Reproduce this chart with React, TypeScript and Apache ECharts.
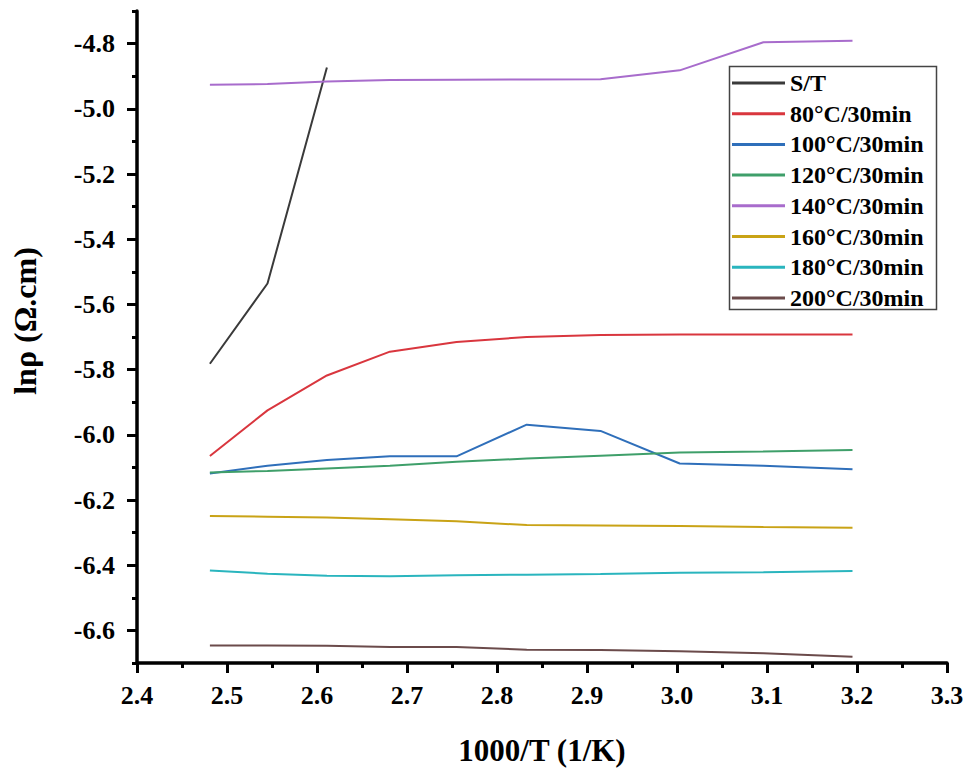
import React, { useEffect, useRef } from "react";
import * as echarts from "echarts";

const xValues = [2.481, 2.545, 2.611, 2.681, 2.755, 2.833, 2.915, 3.003, 3.096, 3.195];
const seriesNames = [
  "S/T",
  "80°C/30min",
  "100°C/30min",
  "120°C/30min",
  "140°C/30min",
  "160°C/30min",
  "180°C/30min",
  "200°C/30min",
];
const stValues = [-5.782, -5.536, -4.873];
const t80Values = [-6.065, -5.925, -5.818, -5.745, -5.715, -5.7, -5.694, -5.692, -5.692, -5.692];
const t100Values = [-6.119, -6.095, -6.077, -6.066, -6.066, -5.969, -5.988, -6.088, -6.095, -6.106];
const t120Values = [-6.116, -6.111, -6.103, -6.095, -6.083, -6.073, -6.064, -6.054, -6.051, -6.047];
const t140Values = [-4.926, -4.924, -4.916, -4.912, -4.911, -4.91, -4.909, -4.882, -4.796, -4.791];
const t160Values = [-6.249, -6.251, -6.254, -6.259, -6.265, -6.277, -6.278, -6.28, -6.283, -6.285];
const t180Values = [-6.416, -6.426, -6.432, -6.434, -6.431, -6.429, -6.427, -6.423, -6.422, -6.418];
const t200Values = [-6.646, -6.646, -6.647, -6.651, -6.651, -6.659, -6.66, -6.664, -6.67, -6.681];
const seriesValues = [stValues, t80Values, t100Values, t120Values, t140Values, t160Values, t180Values, t200Values];
const colors = ["#3a3a3a", "#d9363e", "#2f6fba", "#3f9f6a", "#a86ccc", "#c9a316", "#2ab5be", "#6b4b4b"];

const yLabelValues = [-6.6, -6.4, -6.2, -6.0, -5.8, -5.6, -5.4, -5.2, -5.0, -4.8];
const yMinorValues = [-6.7, -6.5, -6.3, -6.1, -5.9, -5.7, -5.5, -5.3, -5.1, -4.9, -4.7];

const FONT = "Liberation Serif";

export default function App() {
  const ref = useRef<HTMLDivElement>(null);
  useEffect(() => {
    if (!ref.current) return;
    const chart = echarts.init(ref.current, null, { renderer: "svg" });
    const series = seriesNames.map((name, i) => ({
      name,
      type: "line",
      data: seriesValues[i].map((v, j) => [xValues[j], v]),
      symbol: "none",
      showSymbol: false,
      lineStyle: { color: colors[i], width: 2 },
      itemStyle: { color: colors[i] },
      xAxisIndex: 0,
      yAxisIndex: 0,
    }));
    const tickLabel = {
      fontFamily: FONT,
      fontWeight: "bold",
      fontSize: 26,
      color: "#000",
      formatter: (v: number) => v.toFixed(1),
    };
    chart.setOption({
      animation: false,
      textStyle: { fontFamily: FONT, fontWeight: "bold" },
      grid: {
        left: 137,
        right: 17,
        top: 11,
        bottom: 106,
        containLabel: false,
        outerBoundsMode: "none",
      },
      xAxis: [
        {
          type: "value",
          min: 2.4,
          max: 3.3,
          interval: 0.1,
          name: "1000/T (1/K)",
          nameLocation: "middle",
          nameGap: 72,
          nameTextStyle: { fontFamily: FONT, fontWeight: "bold", fontSize: 31, color: "#000" },
          axisLine: { show: true, onZero: false, lineStyle: { color: "#000", width: 3.5 } },
          axisTick: { show: true, inside: false, length: 10, lineStyle: { color: "#000", width: 3 } },
          minorTick: { show: true, splitNumber: 2, length: 5, lineStyle: { color: "#000", width: 3 } },
          axisLabel: { ...tickLabel, margin: 19 },
          splitLine: { show: false },
          minorSplitLine: { show: false },
        },
      ],
      yAxis: [
        {
          type: "value",
          min: -6.7,
          max: -4.7,
          position: "left",
          name: "lnρ (Ω.cm)",
          nameLocation: "middle",
          nameRotate: 90,
          nameGap: 96,
          nameTextStyle: {
            fontFamily: FONT,
            fontWeight: "bold",
            fontSize: 32,
            color: "#000",
            padding: [0, 0, 0, 32],
          },
          axisLine: { show: true, onZero: false, lineStyle: { color: "#000", width: 3.5 } },
          axisTick: {
            show: true,
            inside: false,
            length: 10,
            customValues: yLabelValues,
            lineStyle: { color: "#000", width: 3 },
          },
          axisLabel: { ...tickLabel, margin: 22, customValues: yLabelValues },
          splitLine: { show: false },
        },
        {
          type: "value",
          min: -6.7,
          max: -4.7,
          position: "left",
          axisLine: { show: false },
          axisTick: {
            show: true,
            inside: false,
            length: 5,
            customValues: yMinorValues,
            lineStyle: { color: "#000", width: 3 },
          },
          axisLabel: { show: false },
          splitLine: { show: false },
        },
      ],
      legend: {
        orient: "vertical",
        left: 732,
        top: 71,
        padding: 0,
        itemGap: 6.7,
        itemWidth: 53,
        itemHeight: 3,
        icon: "rect",
        selectedMode: false,
        data: seriesNames,
        textStyle: {
          fontFamily: FONT,
          fontWeight: "bold",
          fontSize: 24,
          lineHeight: 24,
          color: "#000",
          padding: [0, 0, 0, 0],
        },
      },
      graphic: [
        {
          type: "rect",
          left: 727,
          top: 64,
          shape: { width: 207, height: 243 },
          style: { fill: "none", stroke: "#444", lineWidth: 1.5 },
          silent: true,
        },
      ],
      series,
    });
    return () => chart.dispose();
  }, []);
  return (
    <div
      ref={ref}
      style={{ position: "absolute", left: 0, top: 0, width: 964, height: 769, background: "#fff" }}
    />
  );
}
